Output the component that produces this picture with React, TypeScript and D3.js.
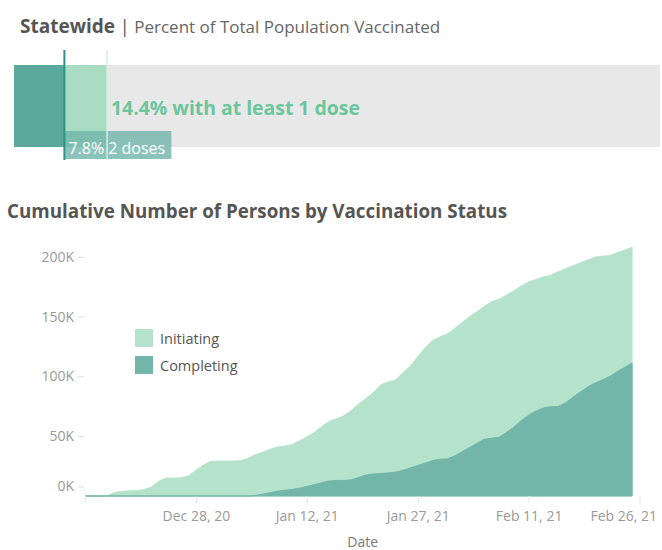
import React, { useEffect, useRef } from 'react'
import * as d3 from 'd3'

// statewide percent bar
const pctAtLeastOne = 14.4
const pctTwoDoses = 7.8

// cumulative persons, one value per day starting Dec 13, 2020 (thousands)
const startDate = new Date(2020, 11, 13)
const initiating = [
  0, 0, 0, 0.3, 3, 4, 4.3, 4.5, 5.5, 7.5, 12.5, 15, 15, 15.3, 17, 21.5, 26, 29, 29.2, 29.2,
  29.3, 29.5, 31.5, 34.5, 36.5, 39, 41, 41.8, 43, 46, 49.6, 53, 58, 62.5, 64.5, 67, 71.5, 77,
  81.5, 86.5, 93, 95.3, 97, 103, 108.5, 116.5, 124, 130, 133, 135.5, 140, 145, 150, 154, 158.5,
  162.5, 164.5, 168, 171.5, 175.5, 179, 181, 183, 184.5, 187.5, 190, 192.5, 195, 197.5, 199.7,
  200.5, 201, 203.5, 205.5, 208,
]
const completing = [
  0, 0, 0, 0, 0, 0, 0, 0, 0, 0, 0, 0, 0, 0, 0, 0, 0, 0, 0, 0, 0, 0, 0, 0.3, 1.5, 2.8, 4, 4.8,
  5.5, 6.5, 8, 9.5, 11, 12.5, 13, 13, 13.5, 15.5, 17.5, 18.4, 18.8, 19.3, 20, 21.5, 23.5, 25.5,
  27.5, 29.5, 30.8, 31, 33.5, 37, 40.5, 44, 47.5, 48.3, 49, 53, 57.5, 63, 67.5, 71, 73.5, 74.7,
  74.7, 78, 82.5, 87, 91, 94.5, 97, 100, 104, 107.5, 111,
]
const xTickDates = [
  new Date(2020, 11, 28),
  new Date(2021, 0, 12),
  new Date(2021, 0, 27),
  new Date(2021, 1, 11),
  new Date(2021, 1, 26),
]
const yTicks = [0, 50000, 100000, 150000, 200000]
const legendItems = [
  { name: 'Initiating', color: '#b5e2cb' },
  { name: 'Completing', color: '#72b6a9' },
]

const FONT = '"Open Sans", sans-serif'

const App = () => {
  const refSvg = useRef(null)

  useEffect(() => {
    const svg = d3.select(refSvg.current)
    svg.selectAll('*').remove()

    //--------- statewide bar ---------
    const pScale = d3.scaleLinear().domain([0, 100]).range([14, 660])
    const top = svg.append('g')

    const title = top
      .append('text')
      .attr('x', 20)
      .attr('y', 33)
      .style('font-family', FONT)
    title
      .append('tspan')
      .text('Statewide')
      .attr('font-weight', 700)
      .attr('font-size', 19)
      .attr('fill', '#555')
    title
      .append('tspan')
      .text(' | ')
      .attr('font-size', 18)
      .attr('fill', '#555')
    title
      .append('tspan')
      .text('Percent of Total Population Vaccinated')
      .attr('font-size', 17)
      .attr('fill', '#666')

    top
      .append('rect')
      .attr('x', pScale(0))
      .attr('y', 65)
      .attr('width', pScale(100) - pScale(0))
      .attr('height', 82)
      .attr('fill', '#e8e8e8')
    top
      .append('rect')
      .attr('x', pScale(0))
      .attr('y', 65)
      .attr('width', pScale(pctTwoDoses) - pScale(0))
      .attr('height', 82)
      .attr('fill', '#5aa99c')
    top
      .append('rect')
      .attr('x', pScale(pctTwoDoses))
      .attr('y', 65)
      .attr('width', pScale(pctAtLeastOne) - pScale(pctTwoDoses))
      .attr('height', 82)
      .attr('fill', '#a8dcc3')

    top
      .append('rect')
      .attr('x', pScale(pctTwoDoses))
      .attr('y', 131)
      .attr('width', 107)
      .attr('height', 28)
      .attr('fill', '#6fb5aa')
      .attr('opacity', 0.8)
    top
      .append('text')
      .attr('x', pScale(pctTwoDoses) + 4)
      .attr('y', 154)
      .attr('fill', '#fff')
      .style('font-family', FONT)
      .attr('font-size', 16)
      .text(`${pctTwoDoses}% 2 doses`)

    top
      .append('line')
      .attr('x1', pScale(pctTwoDoses))
      .attr('x2', pScale(pctTwoDoses))
      .attr('y1', 50)
      .attr('y2', 160)
      .attr('stroke', '#2b9485')
      .attr('stroke-width', 2)
    top
      .append('line')
      .attr('x1', pScale(pctAtLeastOne))
      .attr('x2', pScale(pctAtLeastOne))
      .attr('y1', 50)
      .attr('y2', 160)
      .attr('stroke', '#d5eee4')
      .attr('stroke-width', 1.5)

    top
      .append('text')
      .attr('x', pScale(pctAtLeastOne) + 4)
      .attr('y', 115)
      .attr('fill', '#6cc59c')
      .attr('font-weight', 700)
      .attr('font-size', 19.4)
      .style('font-family', FONT)
      .text(`${pctAtLeastOne}% with at least 1 dose`)

    //--------- area chart ---------
    svg
      .append('text')
      .attr('x', 7)
      .attr('y', 218)
      .attr('fill', '#555')
      .attr('font-weight', 700)
      .attr('font-size', 18.8)
      .style('font-family', FONT)
      .text('Cumulative Number of Persons by Vaccination Status')

    const data = initiating.map((v, i) => ({
      date: d3.timeDay.offset(startDate, i),
      initiating: v * 1000,
      completing: completing[i] * 1000,
    }))

    const xScale = d3
      .scaleTime()
      .domain([startDate, new Date(2021, 1, 26)])
      .range([85, 639.5])
    const yScale = d3.scaleLinear().domain([0, 200000]).range([496, 256.7])

    const areaInit = d3
      .area()
      .x((d) => xScale(d.date))
      .y0(yScale(0))
      .y1((d) => yScale(d.initiating))
    const areaComp = d3
      .area()
      .x((d) => xScale(d.date))
      .y0(yScale(0))
      .y1((d) => yScale(d.completing))

    svg
      .append('path')
      .datum(data)
      .attr('d', areaInit)
      .attr('fill', legendItems[0].color)
      .attr('stroke', legendItems[0].color)
      .attr('stroke-width', 0.8)
    svg
      .append('path')
      .datum(data)
      .attr('d', areaComp)
      .attr('fill', legendItems[1].color)
      .attr('stroke', legendItems[1].color)
      .attr('stroke-width', 1)

    const yAxis = d3
      .axisLeft(yScale)
      .tickValues(yTicks)
      .tickSize(6)
      .tickPadding(4)
      .tickFormat((d) => d / 1000 + 'K')
    const gy = svg.append('g').attr('transform', 'translate(84,0)').call(yAxis)
    gy.select('.domain').remove()
    gy.selectAll('line').attr('stroke', '#ddd')
    gy.selectAll('text')
      .attr('fill', '#999')
      .attr('font-size', 14)
      .style('font-family', FONT)
    // tableau pushes the zero label up off the baseline
    gy.selectAll('.tick')
      .filter((d) => d === 0)
      .attr('transform', `translate(0,${yScale(0) - 9})`)

    const xAxis = d3
      .axisBottom(xScale)
      .tickValues([startDate, ...xTickDates])
      .tickSize(7)
      .tickPadding(8)
      .tickFormat((d) => (d.getTime() === startDate.getTime() ? '' : d3.timeFormat('%b %-d, %y')(d)))
    const gx = svg.append('g').attr('transform', `translate(0,${yScale(0)})`).call(xAxis)
    gx.select('.domain').remove()
    gx.selectAll('line').attr('stroke', '#e4e4e4')
    gx.selectAll('text')
      .attr('fill', '#999')
      .attr('font-size', 14)
      .style('font-family', FONT)
    gx.selectAll('.tick text')
      .filter((d, i, n) => i === n.length - 1)
      .attr('text-anchor', 'end')
      .attr('dx', 17)

    svg
      .append('text')
      .attr('x', xScale(xTickDates[2]) - 55)
      .attr('y', 547)
      .attr('text-anchor', 'middle')
      .attr('fill', '#777')
      .attr('font-size', 14)
      .style('font-family', FONT)
      .text('Date')

    const legend = svg
      .selectAll('.legend')
      .data(legendItems)
      .enter()
      .append('g')
      .attr('transform', (d, i) => `translate(135,${329 + i * 27})`)
    legend
      .append('rect')
      .attr('width', 18)
      .attr('height', 18)
      .attr('fill', (d) => d.color)
    legend
      .append('text')
      .attr('x', 25)
      .attr('y', 15)
      .attr('fill', '#555')
      .attr('font-size', 14.5)
      .style('font-family', FONT)
      .text((d) => d.name)
  }, [])

  return (
    <div style={{ position: 'absolute', left: 0, top: 0 }}>
      <svg ref={refSvg} width={662} height={550} style={{ display: 'block' }}></svg>
    </div>
  )
}

export default App
